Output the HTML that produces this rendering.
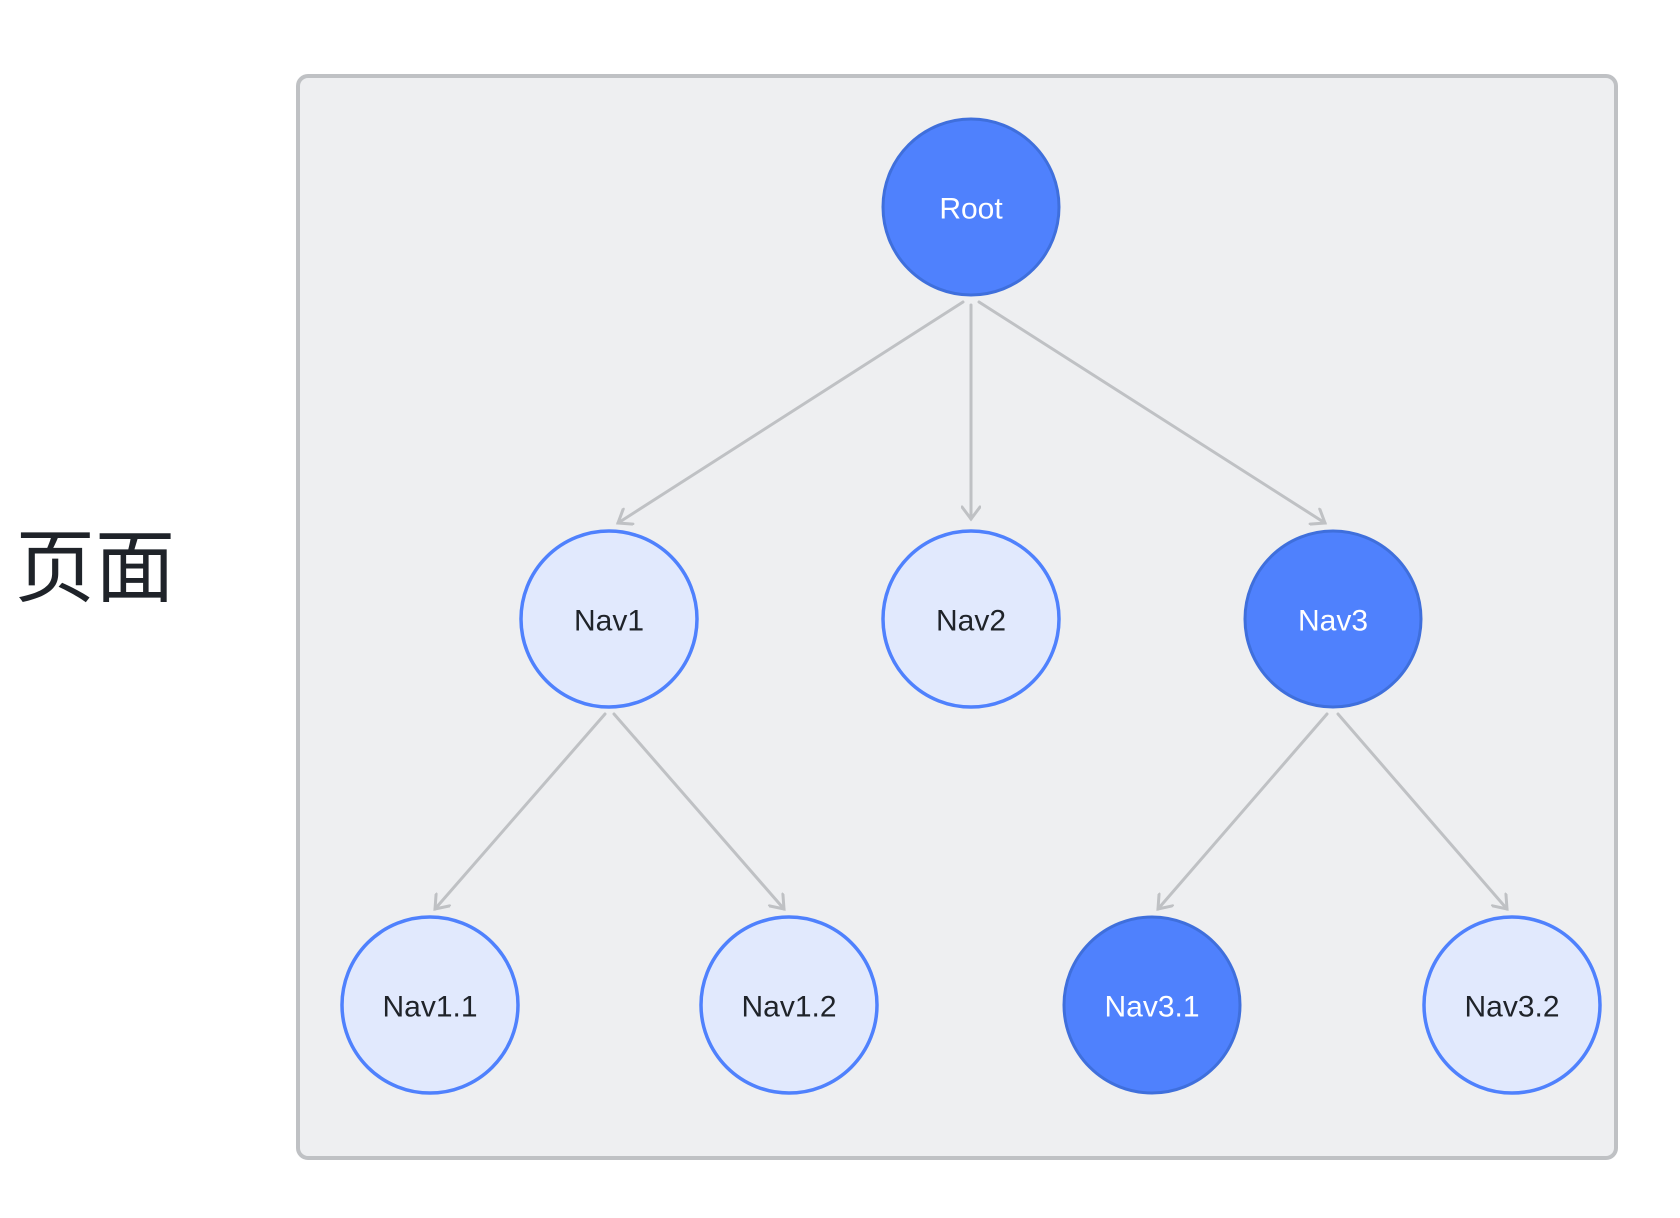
<!DOCTYPE html>
<html><head><meta charset="utf-8"><style>
html,body{margin:0;padding:0;background:#fff;}
svg{display:block;}
</style></head><body>
<svg width="1680" height="1218" viewBox="0 0 1680 1218" xmlns="http://www.w3.org/2000/svg">
<defs>
<marker id="a" markerWidth="20" markerHeight="20" refX="15" refY="10" orient="auto" markerUnits="userSpaceOnUse" viewBox="0 0 20 20">
<path d="M3,1 L15,10 L3,19" fill="none" stroke="#bfc1c4" stroke-width="3" stroke-linecap="round"/>
</marker>
</defs>
<rect x="298" y="76" width="1318" height="1082" rx="10" fill="#eeeff1" stroke="#bfc1c4" stroke-width="4"/>
<text x="95" y="568" font-family="'Liberation Sans','Noto Sans CJK SC',sans-serif" font-size="80" fill="#1f2329" text-anchor="middle" dominant-baseline="central">页面</text>
<g stroke="#bfc1c4" stroke-width="3" fill="none" stroke-linecap="round">
<path d="M963,302 L618,523" marker-end="url(#a)"/>
<path d="M971,305 L971,519" marker-end="url(#a)"/>
<path d="M979,302 L1325,523" marker-end="url(#a)"/>
<path d="M605,714 L435,909" marker-end="url(#a)"/>
<path d="M614,714 L784,909" marker-end="url(#a)"/>
<path d="M1327,714 L1158,909" marker-end="url(#a)"/>
<path d="M1338,714 L1507,909" marker-end="url(#a)"/>
</g>
<g font-family="'Liberation Sans',sans-serif" font-size="30" text-anchor="middle" dominant-baseline="central">
<circle cx="971" cy="207" r="88" fill="#4f81fd" stroke="#3f6fdc" stroke-width="3"/>
<text x="971" y="209" fill="#fff">Root</text>
<circle cx="609" cy="619" r="88" fill="#e1e9fd" stroke="#4f81fd" stroke-width="3.5"/>
<text x="609" y="621" fill="#1f2329">Nav1</text>
<circle cx="971" cy="619" r="88" fill="#e1e9fd" stroke="#4f81fd" stroke-width="3.5"/>
<text x="971" y="621" fill="#1f2329">Nav2</text>
<circle cx="1333" cy="619" r="88" fill="#4f81fd" stroke="#3f6fdc" stroke-width="3"/>
<text x="1333" y="621" fill="#fff">Nav3</text>
<circle cx="430" cy="1005" r="88" fill="#e1e9fd" stroke="#4f81fd" stroke-width="3.5"/>
<text x="430" y="1007" fill="#1f2329">Nav1.1</text>
<circle cx="789" cy="1005" r="88" fill="#e1e9fd" stroke="#4f81fd" stroke-width="3.5"/>
<text x="789" y="1007" fill="#1f2329">Nav1.2</text>
<circle cx="1152" cy="1005" r="88" fill="#4f81fd" stroke="#3f6fdc" stroke-width="3"/>
<text x="1152" y="1007" fill="#fff">Nav3.1</text>
<circle cx="1512" cy="1005" r="88" fill="#e1e9fd" stroke="#4f81fd" stroke-width="3.5"/>
<text x="1512" y="1007" fill="#1f2329">Nav3.2</text>
</g>
</svg>
</body></html>
